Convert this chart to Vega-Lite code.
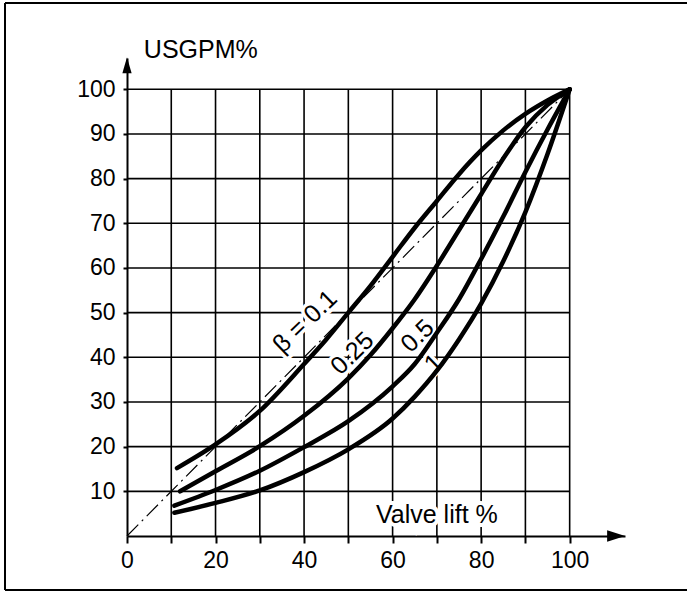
{
  "$schema": "https://vega.github.io/schema/vega-lite/v6.json",
  "width": 498,
  "height": 478,
  "autosize": {"type": "none"},
  "padding": {"left": 127, "top": 58, "right": 62, "bottom": 56},
  "background": "white",
  "config": {
    "view": {"stroke": null},
    "font": "Liberation Sans",
    "axis": {
      "grid": false,
      "domainColor": "black", "domainWidth": 2,
      "tickColor": "black", "tickWidth": 2,
      "labelFontSize": 23, "labelColor": "black", "labelFont": "Liberation Sans",
      "labelFlush": false, "labelOverlap": false, "labelBound": false
    }
  },
  "data": {"values": [{"one": 1}]},
  "datasets": {
    "grid": [{"v": 10}, {"v": 20}, {"v": 30}, {"v": 40}, {"v": 50}, {"v": 60}, {"v": 70}, {"v": 80}, {"v": 90}, {"v": 100}],
    "diag": [{"x": 0, "y": 0}, {"x": 100, "y": 100}],
    "curves": [
      {"beta": "0.1", "x": 11.3, "y": 15.2}, {"beta": "0.1", "x": 20, "y": 20.5}, {"beta": "0.1", "x": 30, "y": 28}, {"beta": "0.1", "x": 40, "y": 38.5}, {"beta": "0.1", "x": 45, "y": 44}, {"beta": "0.1", "x": 50, "y": 50}, {"beta": "0.1", "x": 55, "y": 56}, {"beta": "0.1", "x": 60, "y": 62.5}, {"beta": "0.1", "x": 65, "y": 69}, {"beta": "0.1", "x": 70, "y": 75}, {"beta": "0.1", "x": 75, "y": 81}, {"beta": "0.1", "x": 80, "y": 86.3}, {"beta": "0.1", "x": 85, "y": 90.8}, {"beta": "0.1", "x": 90, "y": 94.5}, {"beta": "0.1", "x": 95, "y": 97.5}, {"beta": "0.1", "x": 100, "y": 100},
      {"beta": "0.25", "x": 12, "y": 10}, {"beta": "0.25", "x": 20, "y": 14.5}, {"beta": "0.25", "x": 30, "y": 20.1}, {"beta": "0.25", "x": 40, "y": 26.9}, {"beta": "0.25", "x": 50, "y": 35.3}, {"beta": "0.25", "x": 55, "y": 40.5}, {"beta": "0.25", "x": 60, "y": 46.5}, {"beta": "0.25", "x": 65, "y": 53}, {"beta": "0.25", "x": 70, "y": 60.5}, {"beta": "0.25", "x": 75, "y": 68.5}, {"beta": "0.25", "x": 80, "y": 76.5}, {"beta": "0.25", "x": 85, "y": 84.5}, {"beta": "0.25", "x": 90, "y": 91.5}, {"beta": "0.25", "x": 95, "y": 96.5}, {"beta": "0.25", "x": 100, "y": 100},
      {"beta": "0.5", "x": 10.7, "y": 6.8}, {"beta": "0.5", "x": 20, "y": 10.3}, {"beta": "0.5", "x": 30, "y": 14.6}, {"beta": "0.5", "x": 40, "y": 19.9}, {"beta": "0.5", "x": 50, "y": 25.7}, {"beta": "0.5", "x": 60, "y": 33.5}, {"beta": "0.5", "x": 65, "y": 38.5}, {"beta": "0.5", "x": 70, "y": 45.5}, {"beta": "0.5", "x": 75, "y": 53}, {"beta": "0.5", "x": 80, "y": 62}, {"beta": "0.5", "x": 85, "y": 71.5}, {"beta": "0.5", "x": 90, "y": 81.5}, {"beta": "0.5", "x": 95, "y": 91}, {"beta": "0.5", "x": 100, "y": 100},
      {"beta": "1", "x": 10.7, "y": 5.2}, {"beta": "1", "x": 20, "y": 7.4}, {"beta": "1", "x": 30, "y": 10.2}, {"beta": "1", "x": 40, "y": 14.3}, {"beta": "1", "x": 50, "y": 19.4}, {"beta": "1", "x": 60, "y": 26.3}, {"beta": "1", "x": 65, "y": 31.2}, {"beta": "1", "x": 70, "y": 37}, {"beta": "1", "x": 75, "y": 44}, {"beta": "1", "x": 80, "y": 52}, {"beta": "1", "x": 85, "y": 61.5}, {"beta": "1", "x": 90, "y": 72.5}, {"beta": "1", "x": 95, "y": 85.5}, {"beta": "1", "x": 100, "y": 100}
    ],
    "labels": [
      {"x": 40.2, "y": 48.0, "text": "β = 0.1"},
      {"x": 50.9, "y": 40.9, "text": "0.25"},
      {"x": 65.6, "y": 44.8, "text": "0.5"},
      {"x": 69.2, "y": 38.7, "text": "1"}
    ]
  },
  "layer": [
    {
      "data": {"name": "curves"},
      "mark": {"type": "line", "color": "black", "strokeWidth": 4.5, "interpolate": "monotone", "opacity": 0},
      "encoding": {
        "x": {
          "field": "x", "type": "quantitative",
          "scale": {"domain": [0, 112.5], "nice": false, "zero": false},
          "axis": {
            "title": null,
            "values": [0, 10, 20, 30, 40, 50, 60, 70, 80, 90, 100],
            "labelExpr": "datum.value % 20 === 0 ? datum.label : ''",
            "tickSize": 7, "labelPadding": 6
          }
        },
        "y": {
          "field": "y", "type": "quantitative",
          "scale": {"domain": [0, 107], "nice": false, "zero": false},
          "axis": {
            "title": null,
            "values": [10, 20, 30, 40, 50, 60, 70, 80, 90, 100],
            "tickSize": 4, "labelPadding": 8
          }
        },
        "detail": {"field": "beta"}
      }
    },
    {
      "mark": {"type": "rule", "color": "black", "strokeWidth": 2},
      "encoding": {
        "x": {"datum": -27.56, "type": "quantitative", "axis": {"title": null}},
        "y": {"datum": -12.09, "type": "quantitative", "axis": {"title": null}},
        "y2": {"datum": 119.3}
      }
    },
    {
      "mark": {"type": "rule", "color": "black", "strokeWidth": 2},
      "encoding": {
        "x": {"datum": -27.56, "type": "quantitative", "axis": {"title": null}},
        "x2": {"datum": 300},
        "y": {"datum": 119.3, "type": "quantitative", "axis": {"title": null}}
      }
    },
    {
      "mark": {"type": "rule", "color": "black", "strokeWidth": 2},
      "encoding": {
        "x": {"datum": -27.56, "type": "quantitative", "axis": {"title": null}},
        "x2": {"datum": 300},
        "y": {"datum": -12.09, "type": "quantitative", "axis": {"title": null}}
      }
    },
    {
      "data": {"name": "grid"},
      "mark": {"type": "rule", "color": "black", "strokeWidth": 1.6},
      "encoding": {
        "x": {"field": "v", "type": "quantitative", "axis": {"title": null}},
        "y": {"datum": 0, "type": "quantitative", "axis": {"title": null}},
        "y2": {"datum": 100}
      }
    },
    {
      "data": {"name": "grid"},
      "mark": {"type": "rule", "color": "black", "strokeWidth": 1.6},
      "encoding": {
        "y": {"field": "v", "type": "quantitative", "axis": {"title": null}},
        "x": {"datum": 0, "type": "quantitative", "axis": {"title": null}},
        "x2": {"datum": 100}
      }
    },
    {
      "data": {"name": "diag"},
      "mark": {"type": "line", "color": "black", "strokeWidth": 1.2, "strokeDash": [16, 5, 2, 5]},
      "encoding": {
        "x": {"field": "x", "type": "quantitative", "axis": {"title": null}},
        "y": {"field": "y", "type": "quantitative", "axis": {"title": null}}
      }
    },
    {
      "data": {"name": "labels"},
      "mark": {"type": "text", "angle": -44, "fontSize": 25, "align": "center", "baseline": "middle", "stroke": "white", "strokeWidth": 7, "fill": "white"},
      "encoding": {
        "x": {"field": "x", "type": "quantitative", "axis": {"title": null}},
        "y": {"field": "y", "type": "quantitative", "axis": {"title": null}},
        "text": {"field": "text"}
      }
    },
    {
      "mark": {"type": "text", "text": "Valve lift %", "fontSize": 25, "align": "center", "baseline": "alphabetic", "stroke": "white", "strokeWidth": 8, "fill": "white"},
      "encoding": {
        "x": {"datum": 70, "type": "quantitative", "axis": {"title": null}},
        "y": {"datum": 3.0, "type": "quantitative", "axis": {"title": null}}
      }
    },
    {
      "data": {"name": "curves"},
      "mark": {"type": "line", "color": "black", "strokeWidth": 4.5, "strokeCap": "round", "interpolate": "monotone"},
      "encoding": {
        "x": {"field": "x", "type": "quantitative", "axis": {"title": null}},
        "y": {"field": "y", "type": "quantitative", "axis": {"title": null}},
        "detail": {"field": "beta"}
      }
    },
    {
      "data": {"name": "labels"},
      "mark": {"type": "text", "angle": -44, "fontSize": 25, "align": "center", "baseline": "middle", "color": "black"},
      "encoding": {
        "x": {"field": "x", "type": "quantitative", "axis": {"title": null}},
        "y": {"field": "y", "type": "quantitative", "axis": {"title": null}},
        "text": {"field": "text"}
      }
    },
    {
      "mark": {"type": "text", "text": "Valve lift %", "fontSize": 25, "align": "center", "baseline": "alphabetic", "color": "black"},
      "encoding": {
        "x": {"datum": 70, "type": "quantitative", "axis": {"title": null}},
        "y": {"datum": 3.0, "type": "quantitative", "axis": {"title": null}}
      }
    },
    {
      "mark": {"type": "text", "text": "USGPM%", "fontSize": 25, "align": "left", "baseline": "alphabetic", "color": "black"},
      "encoding": {
        "x": {"datum": 3.8, "type": "quantitative", "axis": {"title": null}},
        "y": {"datum": 106.9, "type": "quantitative", "axis": {"title": null}}
      }
    },
    {
      "mark": {"type": "point", "shape": "M0,-1L0.58,1L-0.58,1Z", "filled": true, "color": "black", "size": 256, "opacity": 1, "strokeWidth": 0},
      "encoding": {
        "x": {"datum": 0, "type": "quantitative", "axis": {"title": null}},
        "y": {"datum": 105.4, "type": "quantitative", "axis": {"title": null}}
      }
    },
    {
      "mark": {"type": "point", "shape": "M1,0L-1,-0.65L-1,0.65Z", "filled": true, "color": "black", "size": 324, "opacity": 1, "strokeWidth": 0},
      "encoding": {
        "x": {"datum": 110.5, "type": "quantitative", "axis": {"title": null}},
        "y": {"datum": 0, "type": "quantitative", "axis": {"title": null}}
      }
    }
  ]
}
